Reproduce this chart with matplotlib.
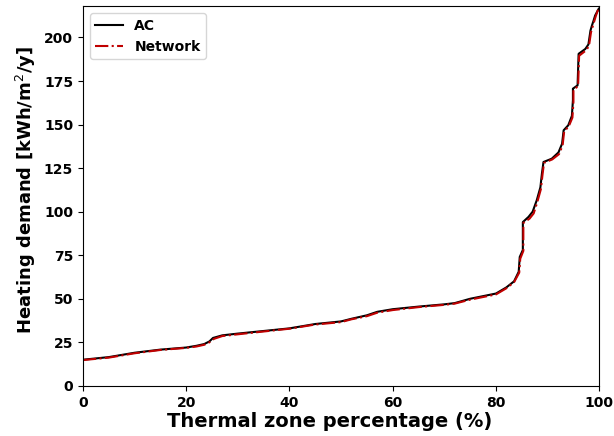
import matplotlib.pyplot as plt

# AC curve (percentage of thermal zones vs heating demand)
x_ac = [0, 5, 10, 15, 20, 22, 23.5, 24.5, 25.2, 27, 30, 35, 40, 45, 50, 52, 55, 57,
        60, 65, 70, 72, 75, 80, 82, 83.5, 84.4, 84.6, 85.2, 85.2, 86.3, 87.1, 87.9,
        88.6, 88.9, 89.2, 90.8, 92.1, 92.8, 93.1, 94.0, 94.7, 94.9, 94.9, 95.8,
        96.0, 97.3, 97.9, 98.3, 98.6, 98.9, 99.2, 99.9]
y_ac = [15, 16.5, 19, 20.8, 22, 23, 24, 25.5, 27.5, 29, 30, 31.5, 33, 35.5, 37, 38.5,
        40.5, 42.5, 44, 45.5, 46.8, 47.5, 50, 53, 56.5, 60, 65.5, 74, 78, 94, 97, 100,
        106.6, 114, 122, 128.5, 130.4, 134, 139, 146.7, 149.6, 155, 164, 170.6, 172.5,
        190.6, 193.4, 196, 204, 207, 209.7, 212.6, 216.5]

# Network prediction
x_nw = [0, 5, 10, 15, 20, 22, 23.5, 24.5, 25.4, 27, 30, 35, 40, 45, 50, 52, 55, 57,
        60, 65, 70, 72, 75, 80, 82, 83.5, 84.5, 84.7, 85.3, 85.3, 86.5, 87.3, 88.0,
        88.7, 89.0, 89.3, 90.9, 92.2, 92.9, 93.2, 94.1, 94.8, 95.0, 95.0, 95.9,
        96.1, 97.4, 98.0, 98.4, 98.7, 99.0, 99.3, 100]
y_nw = [14.8, 16.2, 18.7, 20.6, 21.8, 22.6, 23.6, 25, 27, 28.6, 29.6, 31.2, 32.8, 35.2,
        36.6, 38.2, 40, 42, 43.5, 45.2, 46.5, 47.2, 49.5, 52.5, 56, 59.5, 65, 73, 77.5,
        93.5, 96, 99, 105.5, 113, 121, 128, 130, 133, 138, 146, 149, 154, 163, 170,
        172, 189.5, 192.5, 195, 203, 206, 209, 212, 218]

fig = plt.figure(figsize=(6.14, 4.36), dpi=100)
ax = fig.add_axes([0.135, 0.115, 0.841, 0.871])

ax.plot(x_ac, y_ac, color='black', linestyle='-', linewidth=1.5, label='AC')
ax.plot(x_nw, y_nw, color='#c00000', linestyle='-.', linewidth=1.5, label='Network')

ax.set_xlim(0, 100)
ax.set_ylim(0, 218)
ax.set_yticks([0, 25, 50, 75, 100, 125, 150, 175, 200])
ax.set_xlabel('Thermal zone percentage (%)', fontsize=14, fontweight='bold', labelpad=2, x=0.478)
ax.set_ylabel('Heating demand [kWh/m$^2$/y]', fontsize=13, fontweight='bold', y=0.515)
for lab in ax.get_xticklabels() + ax.get_yticklabels():
    lab.set_fontweight('bold')
    lab.set_fontsize(10)

ax.legend(loc='upper left', prop={'weight': 'bold', 'size': 10})

fig.savefig('out.png', dpi=100)
